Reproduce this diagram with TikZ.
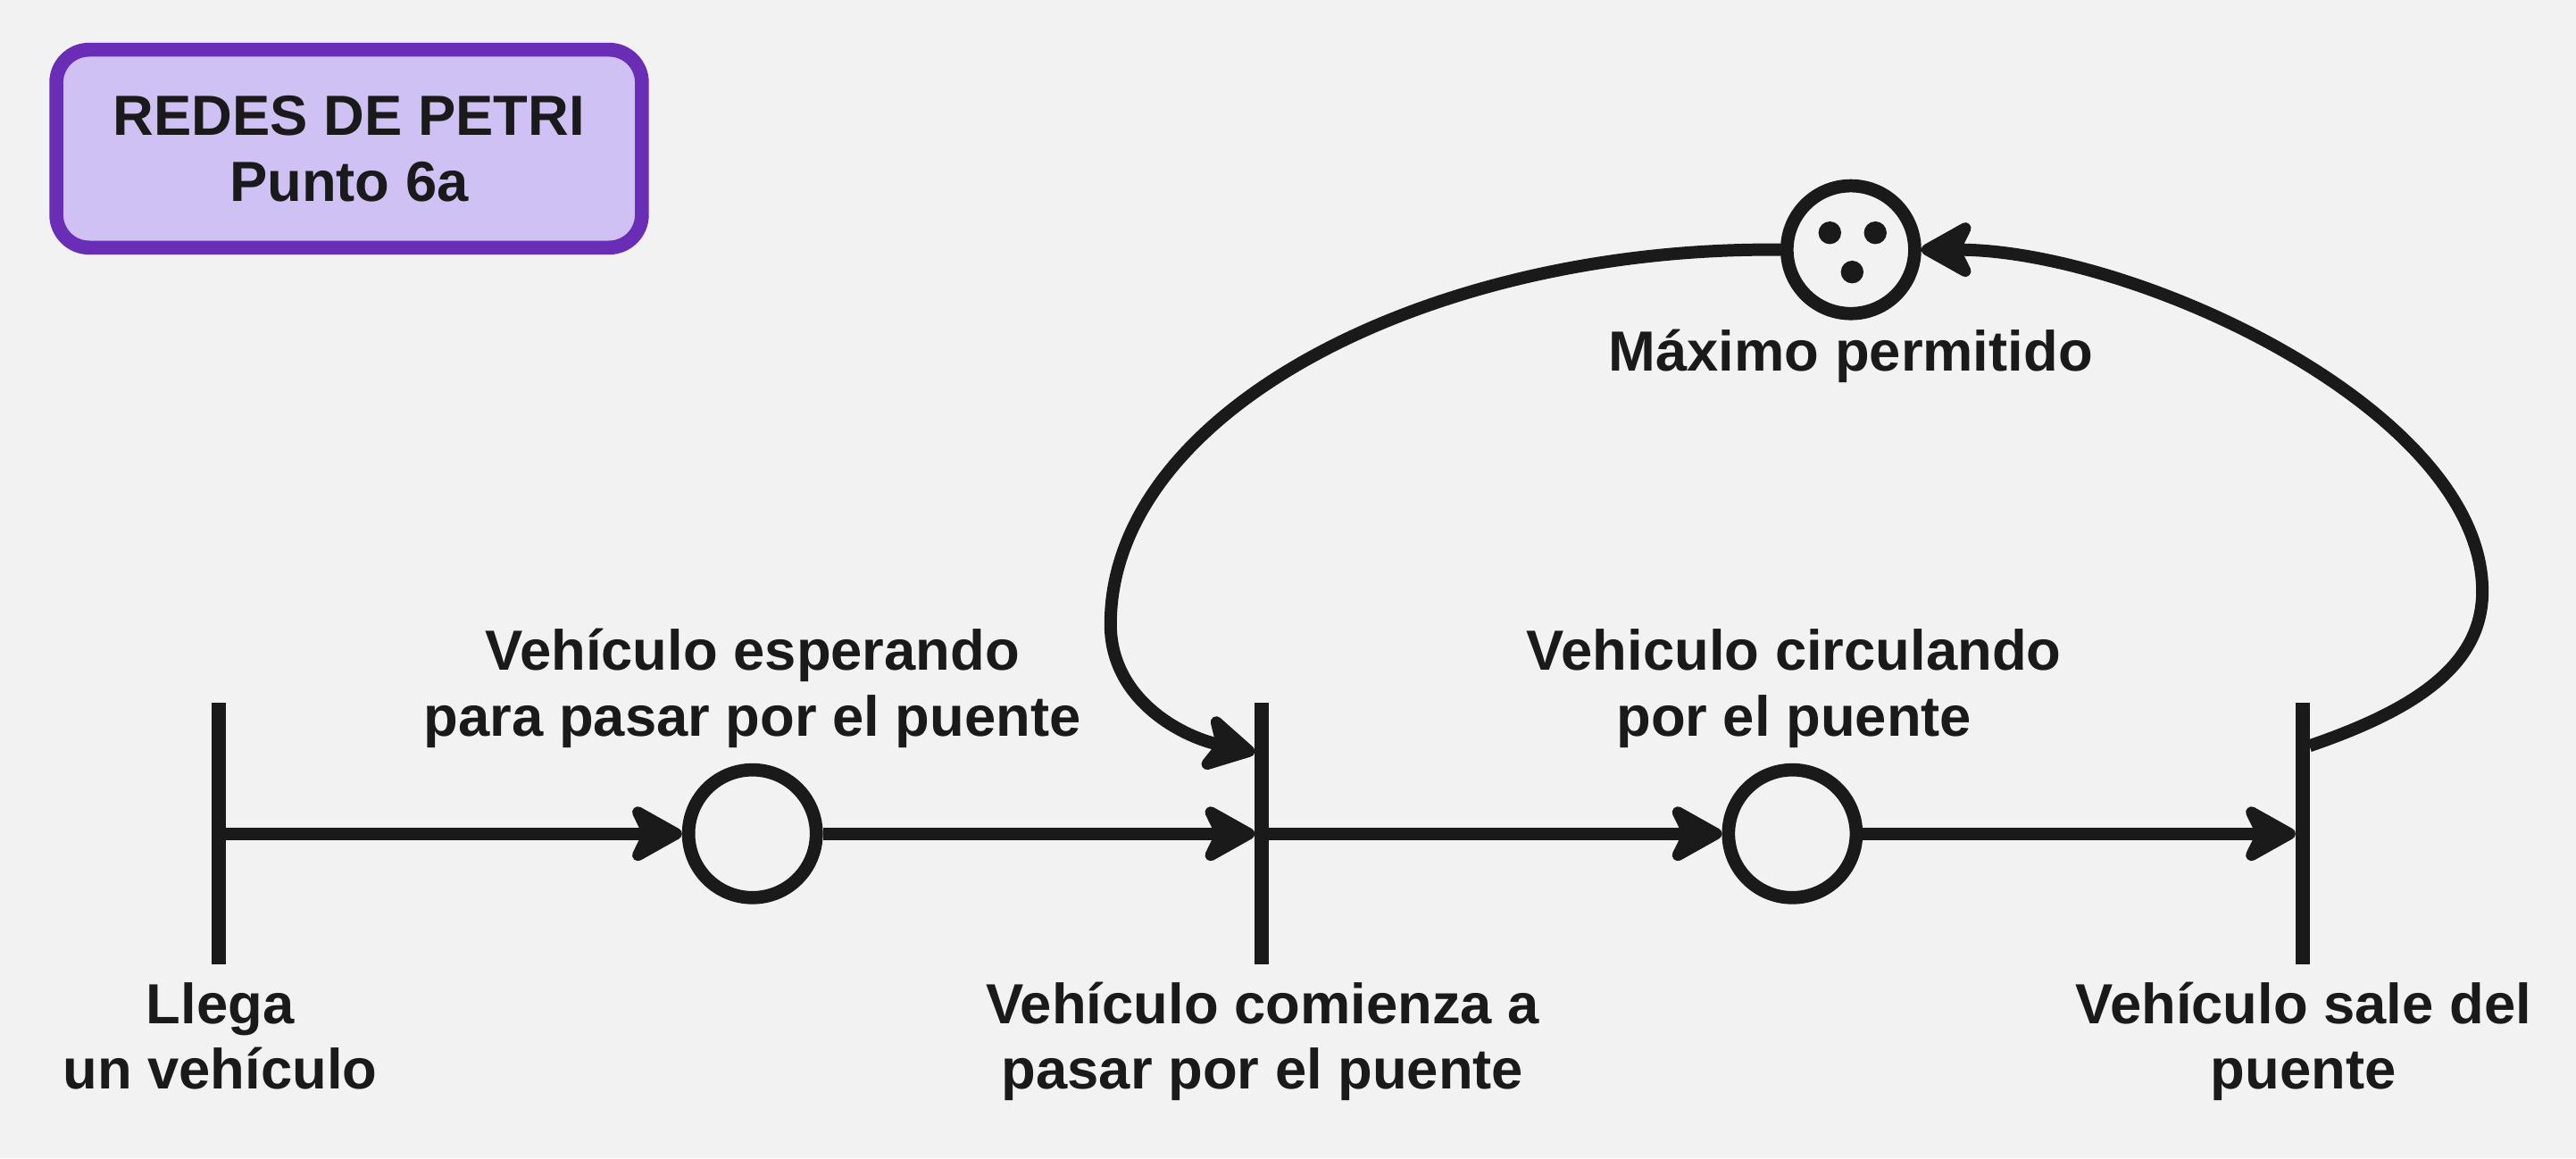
\documentclass[tikz,border=0pt]{standalone}
\usepackage{fontspec}
\setmainfont{Liberation Sans}
\usetikzlibrary{arrows.meta,calc}
\definecolor{ink}{HTML}{1A1A1A}
\definecolor{fondo}{HTML}{F2F2F2}
\definecolor{lila}{HTML}{D0C1F5}
\definecolor{violeta}{HTML}{6A2DB5}
\begin{document}
\begin{tikzpicture}[x=0.02cm,y=0.02cm,
    lbl/.style={font=\fontsize{19.6}{22.8}\selectfont\bfseries,text=ink,align=center,inner sep=0pt},
    place/.style={circle,draw=ink,line width=0.16cm,minimum size=1.556cm,inner sep=0pt},
    trans/.style={rectangle,fill=ink,minimum width=0.17cm,minimum height=3.18cm,inner sep=0pt,outer sep=0pt},
    token/.style={circle,fill=ink,minimum size=0.276cm,inner sep=0pt},
    titlebox/.style={lbl,rectangle,rounded corners=0.4cm,draw=violeta,fill=lila,line width=0.17cm,
      minimum width=7.13cm,minimum height=2.41cm},
    flow/.style={draw=ink,line width=0.152cm,-{Stealth[length=0.76cm,width=0.84cm,inset=0.2cm,round]}}]
  \fill[fondo] (0,0) rectangle (1568,705);
  \useasboundingbox (0,0) rectangle (1568,705);
  \node[titlebox] (titulo) at (212.5,614.5) {REDES DE PETRI\\Punto 6a};
  \node[trans] (llega) at (133,197.5) {};
  \node[trans] (comienza) at (768,197.5) {};
  \node[trans] (sale) at (1401.5,197.5) {};
  \node[place] (espera) at (458,197.5) {};
  \node[place] (circula) at (1091,197.5) {};
  \node[place] (maximo) at (1126.6,553) {};
  \node[token] (t1) at ($(maximo)+(-0.256cm,0.206cm)$) {};
  \node[token] (t2) at ($(maximo)+(0.298cm,0.206cm)$) {};
  \node[token] (t3) at ($(maximo)+(0.016cm,-0.272cm)$) {};
  \node[lbl,anchor=base] (lllega) at (134,42) {Llega\\un vehículo};
  \node[lbl,anchor=base] (lcomienza) at (768.5,42) {Vehículo comienza a\\pasar por el puente};
  \node[lbl,anchor=base] (lsale) at (1402,42) {Vehículo sale del\\puente};
  \node[lbl,anchor=base] (lespera) at (458,257) {Vehículo esperando\\para pasar por el puente};
  \node[lbl,anchor=base] (lcircula) at (1092,257) {Vehiculo circulando\\por el puente};
  \node[lbl,anchor=base] (lmaximo) at (1126.5,479) {Máximo permitido};
  \begin{scope}
    \draw[flow] (llega) -- (espera);
    \draw[flow] (espera) -- (comienza);
    \draw[flow] (comienza) -- (circula);
    \draw[flow] (circula) -- (sale);
    \draw[flow] (maximo.west) .. controls (870,555) and (676,455) .. (676,325)
      .. controls (676,280) and (718,257) .. ($(comienza.north west)+(0,-0.6cm)$);
    \draw[flow] ($(sale.north east)+(0,-0.52cm)$) .. controls (1470,273) and (1511,300) .. (1511,345)
      .. controls (1511,455) and (1300,553) .. (maximo.east);
  \end{scope}
\end{tikzpicture}
\end{document}
